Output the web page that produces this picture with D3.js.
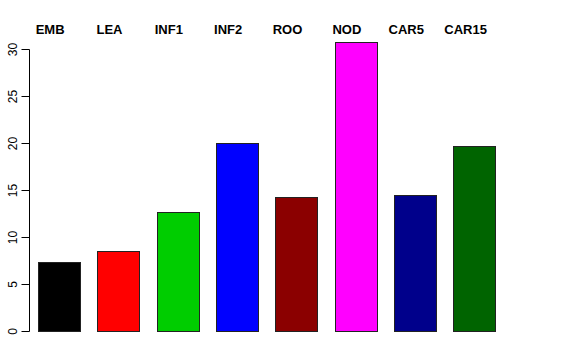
<!DOCTYPE html>
<html>
<head>
<meta charset="utf-8">
<script src="https://cdn.jsdelivr.net/npm/d3@7"></script>
<style>
  html, body { margin: 0; padding: 0; background: #fff; }
  svg { display: block; font-family: "Liberation Sans", Arial, sans-serif; }
</style>
</head>
<body>
<div id="chart"></div>
<script>
// Data
const tissues = ["EMB", "LEA", "INF1", "INF2", "ROO", "NOD", "CAR5", "CAR15"];
const values = [7.3, 8.5, 12.7, 20.0, 14.3, 30.7, 14.5, 19.7];
const barColors = ["#000000", "#FF0000", "#00CD00", "#0000FF", "#8B0000", "#FF00FF", "#00008B", "#006400"];
const yTicks = [0, 5, 10, 15, 20, 25, 30];

const width = 576;
const height = 360;

const svg = d3.select("#chart")
  .append("svg")
  .attr("width", width)
  .attr("height", height)
  .attr("viewBox", [0, 0, width, height]);

const x = d3.scaleBand()
  .domain(tissues)
  .range([29.3, 504.1])
  .paddingInner(0.292)
  .paddingOuter(0.146);

const y = d3.scaleLinear()
  .domain([0, 30])
  .range([331, 49]);

const crisp = v => Math.round(v) + 0.5;

// bars
svg.append("g")
  .selectAll("rect")
  .data(tissues)
  .join("rect")
  .attr("x", d => crisp(x(d)))
  .attr("y", (d, i) => crisp(y(values[i])))
  .attr("width", Math.round(x.bandwidth()))
  .attr("height", (d, i) => Math.round(y(0)) - Math.round(y(values[i])))
  .attr("fill", (d, i) => barColors[i])
  .attr("stroke", "#222")
  .attr("stroke-width", 1);

// y axis (R style: ticks outward, rotated labels)
const axis = svg.append("g").attr("transform", "translate(29.5,0)");
axis.append("line")
  .attr("x1", 0).attr("x2", 0)
  .attr("y1", crisp(y(0))).attr("y2", crisp(y(30)))
  .attr("stroke", "#000");
const tick = axis.selectAll("g.tick")
  .data(yTicks)
  .join("g")
  .attr("class", "tick")
  .attr("transform", d => `translate(0,${crisp(y(d))})`);
tick.append("line")
  .attr("x1", -8).attr("x2", 0)
  .attr("stroke", "#000");
tick.append("text")
  .attr("transform", "translate(-13,0) rotate(-90)")
  .attr("text-anchor", "middle")
  .attr("font-size", 12)
  .text(d => d);

// tissue labels across the top
svg.append("g")
  .selectAll("text")
  .data(tissues)
  .join("text")
  .attr("x", d => x(d) + x.bandwidth() * 0.29)
  .attr("y", 34)
  .attr("text-anchor", "middle")
  .attr("font-size", 13)
  .attr("font-weight", "bold")
  .text(d => d);
</script>
</body>
</html>
